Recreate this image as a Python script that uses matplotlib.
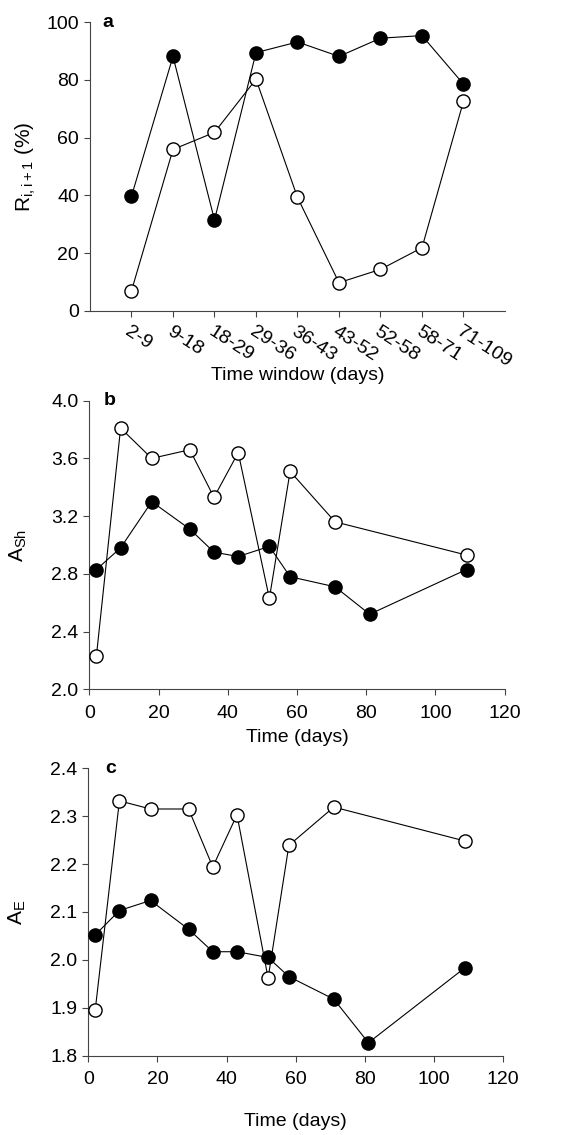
import matplotlib
matplotlib.use("Agg")
import matplotlib.pyplot as plt
from matplotlib.ticker import FormatStrFormatter

plt.rcParams['font.family'] = ['Liberation Sans', 'DejaVu Sans']
plt.rcParams['mathtext.fontset'] = 'custom'
plt.rcParams['mathtext.rm'] = 'Liberation Sans'

# panel a: rank correlation between consecutive time windows
windows = ["2-9", "9-18", "18-29", "29-36", "36-43", "43-52", "52-58", "58-71", "71-109"]
r_filled = [39.7, 88.1, 31.5, 89.4, 93.1, 88.1, 94.4, 95.3, 78.5]
r_open = [7.0, 55.9, 61.8, 80.2, 39.3, 9.8, 14.4, 21.9, 72.6]

# panels b and c: sampling days
days_open = [2, 9, 18, 29, 36, 43, 52, 58, 71, 109]
days_filled = [2, 9, 18, 29, 36, 43, 52, 58, 71, 81, 109]

ash_open = [2.23, 3.81, 3.60, 3.66, 3.33, 3.64, 2.63, 3.51, 3.16, 2.93]
ash_filled = [2.83, 2.98, 3.30, 3.11, 2.95, 2.92, 2.99, 2.78, 2.71, 2.52, 2.83]

ae_open = [1.895, 2.332, 2.315, 2.315, 2.194, 2.303, 1.962, 2.239, 2.319, 2.248]
ae_filled = [2.052, 2.103, 2.124, 2.064, 2.017, 2.017, 2.005, 1.965, 1.918, 1.827, 1.984]

FS = 14
LINE = dict(color='black', lw=0.8, marker='o', markersize=9.5,
            markeredgecolor='black', markeredgewidth=1.0)


def style_axes(ax):
    for side in ['top', 'right']:
        ax.spines[side].set_visible(False)
    for side in ['left', 'bottom']:
        ax.spines[side].set_color('#444444')
        ax.spines[side].set_linewidth(0.8)
    ax.tick_params(direction='out', length=4, width=0.8, color='#444444',
                   labelsize=FS)
    ax.tick_params(axis='x', pad=7)
    ax.tick_params(axis='y', pad=4)


def plot_pair(ax, x_open, y_open, x_filled, y_filled):
    ax.plot(x_open, y_open, markerfacecolor='white', zorder=3, clip_on=False, **LINE)
    ax.plot(x_filled, y_filled, markerfacecolor='black', zorder=4, clip_on=False, **LINE)


def panel_letter(ax, x, letter):
    ax.text(x, 1.0, letter, transform=ax.transAxes, fontsize=FS,
            fontweight='bold', va='center', ha='left')


fig = plt.figure(figsize=(5.71, 11.35), dpi=100)

# ---- panel a
ax_a = fig.add_axes([0.1576, 0.726, 0.7268, 0.2546])
pos = list(range(1, len(windows) + 1))
plot_pair(ax_a, pos, r_open, pos, r_filled)
ax_a.set_xlim(0, len(windows) + 1)
ax_a.set_ylim(0, 100)
ax_a.set_yticks(range(0, 101, 20))
ax_a.set_xticks(pos)
ax_a.set_xticklabels(windows, rotation=-33, ha='left', va='top',
                     rotation_mode='anchor')
style_axes(ax_a)
ax_a.tick_params(axis='x', pad=5)
ax_a.set_ylabel(r'R$_{\mathregular{i,i+1}}$ (%)', fontsize=FS + 1)
ax_a.yaxis.set_label_coords(-0.125, 0.5)
ax_a.set_xlabel('Time window (days)', fontsize=FS)
ax_a.xaxis.set_label_coords(0.5, -0.195)
panel_letter(ax_a, 0.03, 'a')

# ---- panel b
ax_b = fig.add_axes([0.1567, 0.3927, 0.727, 0.2543])
plot_pair(ax_b, days_open, ash_open, days_filled, ash_filled)
ax_b.set_xlim(0, 120)
ax_b.set_ylim(2.0, 4.0)
ax_b.set_xticks(range(0, 121, 20))
ax_b.set_yticks([2.0, 2.4, 2.8, 3.2, 3.6, 4.0])
ax_b.yaxis.set_major_formatter(FormatStrFormatter('%.1f'))
style_axes(ax_b)
ax_b.set_ylabel(r'A$_{\mathregular{Sh}}$', fontsize=FS + 1)
ax_b.yaxis.set_label_coords(-0.145, 0.5)
ax_b.set_xlabel('Time (days)', fontsize=FS)
ax_b.xaxis.set_label_coords(0.5, -0.138)
panel_letter(ax_b, 0.035, 'b')

# ---- panel c
ax_c = fig.add_axes([0.1546, 0.0699, 0.7268, 0.2532])
plot_pair(ax_c, days_open, ae_open, days_filled, ae_filled)
ax_c.set_xlim(0, 120)
ax_c.set_ylim(1.8, 2.4)
ax_c.set_xticks(range(0, 121, 20))
ax_c.set_yticks([1.8, 1.9, 2.0, 2.1, 2.2, 2.3, 2.4])
ax_c.yaxis.set_major_formatter(FormatStrFormatter('%.1f'))
style_axes(ax_c)
ax_c.set_ylabel(r'A$_{\mathregular{E}}$', fontsize=FS + 1)
ax_c.yaxis.set_label_coords(-0.145, 0.5)
ax_c.set_xlabel('Time (days)', fontsize=FS)
ax_c.xaxis.set_label_coords(0.5, -0.198)
panel_letter(ax_c, 0.04, 'c')

fig.savefig('out.png', dpi=100)
